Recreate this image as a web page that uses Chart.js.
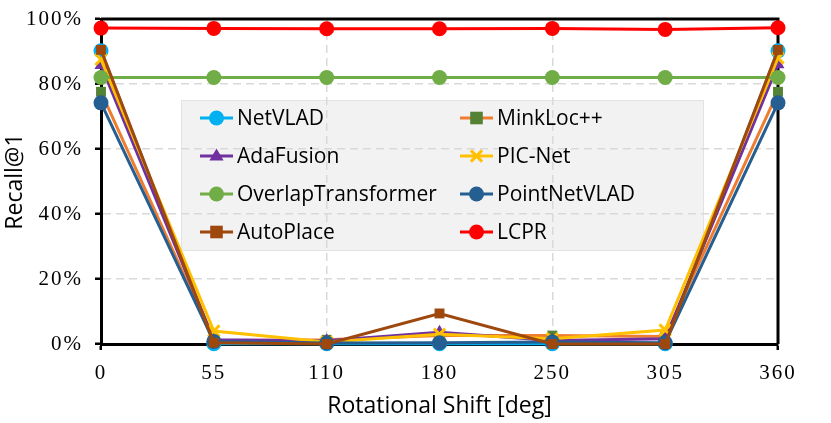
<!DOCTYPE html>
<html>
<head>
<meta charset="utf-8">
<script src="https://cdn.jsdelivr.net/npm/chart.js@4.4.1/dist/chart.umd.min.js"></script>
<style>
    html, body { margin: 0; padding: 0; background: #fff; }
    canvas { display: block; }
</style>
</head>
<body>
<canvas id="myChart" width="831" height="423"></canvas>
<script>
// rotational shift (deg) on x, recall@1 (%) on y
const shifts = ['0', '55', '110', '180', '250', '305', '360']
const yTicks = [0, 20, 40, 60, 80, 100]

const netvlad      = [90.2, 0.1, 0.1, 0.1, 0.1, 0.1, 90.2]
const minkloc      = [77.6, 1.0, 1.3, 2.6, 2.6, 2.3, 77.6]
const adafusion    = [85.8, 1.3, 1.0, 3.6, 1.1, 1.6, 86.0]
const picnet       = [87.6, 4.0, 0.6, 3.0, 1.6, 4.3, 88.0]
const overlap      = [82.0, 82.0, 82.0, 82.0, 82.0, 82.0, 82.0]
const pointnetvlad = [74.2, 0.8, 0.3, 0.4, 0.6, 0.4, 74.2]
const autoplace    = [90.5, 0.4, 0.0, 9.4, 0.0, 0.0, 90.5]
const lcpr         = [97.2, 97.1, 97.0, 97.0, 97.1, 96.8, 97.3]

const series = [
    { label: 'NetVLAD', data: netvlad, line: '#00b0f0', mark: '#00b0f0', style: 'circle', r: 7.5 },
    { label: 'MinkLoc++', data: minkloc, line: '#ed7d31', mark: '#548235', style: 'rect', r: 7 },
    { label: 'AdaFusion', data: adafusion, line: '#7030a0', mark: '#7030a0', style: 'triangle', r: 7.5 },
    { label: 'PIC-Net', data: picnet, line: '#ffc000', mark: '#ffc000', style: 'crossRot', r: 8 },
    { label: 'OverlapTransformer', data: overlap, line: '#70ad47', mark: '#70ad47', style: 'circle', r: 7.5 },
    { label: 'PointNetVLAD', data: pointnetvlad, line: '#255e91', mark: '#255e91', style: 'circle', r: 7.5 },
    { label: 'AutoPlace', data: autoplace, line: '#9e480e', mark: '#9e480e', style: 'rect', r: 7 },
    { label: 'LCPR', data: lcpr, line: '#ff0000', mark: '#ff0000', style: 'circle', r: 7.5 }
]

const drawMarker = (ctx, style, x, y, r, color) => {
    ctx.save()
    ctx.fillStyle = color
    ctx.strokeStyle = color
    ctx.beginPath()
    if (style === 'circle') {
        ctx.arc(x, y, r, 0, Math.PI * 2)
        ctx.fill()
    } else if (style === 'rect') {
        const s = r * 0.9
        ctx.fillRect(x - s, y - s, s * 2, s * 2)
    } else if (style === 'triangle') {
        ctx.moveTo(x, y - r)
        ctx.lineTo(x + r * 0.95, y + r * 0.6)
        ctx.lineTo(x - r * 0.95, y + r * 0.6)
        ctx.closePath()
        ctx.fill()
    } else if (style === 'crossRot') {
        const s = r * 0.7
        ctx.lineWidth = 3
        ctx.moveTo(x - s, y - s); ctx.lineTo(x + s, y + s)
        ctx.moveTo(x + s, y - s); ctx.lineTo(x - s, y + s)
        ctx.stroke()
    }
    ctx.restore()
}

const legendBox = { x: 181, y: 100, w: 522, h: 150 }

const extras = {
    id: 'extras',
    beforeDraw(chart) {
        const { ctx } = chart
        // legend background sits under the grid lines
        ctx.save()
        ctx.fillStyle = '#f2f2f2'
        ctx.strokeStyle = '#e3e3e3'
        ctx.lineWidth = 1
        ctx.fillRect(legendBox.x, legendBox.y, legendBox.w, legendBox.h)
        ctx.strokeRect(legendBox.x + 0.5, legendBox.y + 0.5, legendBox.w, legendBox.h)
        ctx.restore()
        ctx.letterSpacing = '2px'
    },
    beforeDatasetsDraw(chart) {
        const { ctx, chartArea: a } = chart
        ctx.letterSpacing = '0px'
        ctx.save()
        ctx.strokeStyle = '#000'
        ctx.lineWidth = 3
        ctx.beginPath()
        ctx.moveTo(a.left, a.top)
        ctx.lineTo(a.right, a.top)
        ctx.lineTo(a.right, a.bottom)
        ctx.stroke()

        ctx.fillStyle = '#000'
        ctx.font = '23px "Open Sans"'
        ctx.textAlign = 'center'
        ctx.textBaseline = 'middle'
        ctx.fillText('Rotational Shift [deg]', (a.left + a.right) / 2, 406)
        ctx.translate(15, (a.top + a.bottom) / 2)
        ctx.rotate(-Math.PI / 2)
        ctx.fillText('Recall@1', 0, 0)
        ctx.restore()
    },
    afterDatasetsDraw(chart) {
        const { ctx } = chart
        ctx.save()
        ctx.font = '21px "Open Sans"'
        ctx.textBaseline = 'middle'
        ctx.fillStyle = '#000'
        series.forEach((s, i) => {
            const x = 200 + (i % 2) * 260
            const y = 118 + Math.floor(i / 2) * 38
            ctx.strokeStyle = s.line
            ctx.lineWidth = 3
            ctx.beginPath()
            ctx.moveTo(x, y)
            ctx.lineTo(x + 33, y)
            ctx.stroke()
            drawMarker(ctx, s.style, x + 16.5, y, s.r, s.mark)
            ctx.fillText(s.label, x + 37, y + 1)
        })
        ctx.restore()
    }
}

const myChart = document.querySelector('#myChart')
const chart = new Chart(myChart.getContext('2d'), {
    type: 'line',
    data: {
        labels: shifts,
        datasets: series.map((s, i) => ({
            label: s.label,
            data: s.data,
            borderColor: s.line,
            backgroundColor: s.mark,
            borderWidth: 3,
            tension: 0,
            pointStyle: s.style,
            pointRadius: s.r,
            pointHoverRadius: s.r,
            pointBackgroundColor: s.mark,
            pointBorderColor: s.mark,
            pointBorderWidth: s.style === 'crossRot' ? 3 : 0,
            clip: false,
            order: series.length - i
        }))
    },
    options: {
        responsive: false,
        animation: false,
        layout: { padding: { top: 19, right: 53, left: 0, bottom: 0 } },
        plugins: {
            legend: { display: false },
            tooltip: { enabled: false }
        },
        scales: {
            x: {
                offset: false,
                afterFit: s => {
                    s.height = 79
                    s.paddingLeft = 0
                    s.paddingRight = 0
                },
                ticks: {
                    color: '#000',
                    padding: 11,
                    maxRotation: 0,
                    font: { family: '"Liberation Serif"', size: 21 }
                },
                grid: {
                    color: c => (c.index === 2 || c.index === 4) ? '#d9d9d9' : 'rgba(0,0,0,0)',
                    lineWidth: 1.5,
                    tickColor: c => (c.index === 0 || c.index === shifts.length - 1) ? '#000' : 'rgba(0,0,0,0)',
                    tickLength: 6,
                    tickWidth: 2.5
                },
                border: { color: '#000', width: 3, dash: [8, 5] }
            },
            y: {
                min: 0,
                max: 100,
                afterFit: s => {
                    s.width = 101
                    s.paddingTop = 0
                    s.paddingBottom = 0
                },
                afterBuildTicks: s => { s.ticks = yTicks.map(v => ({ value: v })) },
                ticks: {
                    color: '#000',
                    padding: 12,
                    callback: v => v + '%',
                    font: { family: '"Liberation Serif"', size: 21 }
                },
                grid: {
                    color: c => (c.tick && c.tick.value > 0 && c.tick.value < 100) ? '#d9d9d9' : 'rgba(0,0,0,0)',
                    lineWidth: 1.5,
                    tickColor: '#000',
                    tickLength: 6,
                    tickWidth: 2.5
                },
                border: { color: '#000', width: 3, dash: [8, 5] }
            }
        }
    },
    plugins: [extras]
})
</script>
</body>
</html>
